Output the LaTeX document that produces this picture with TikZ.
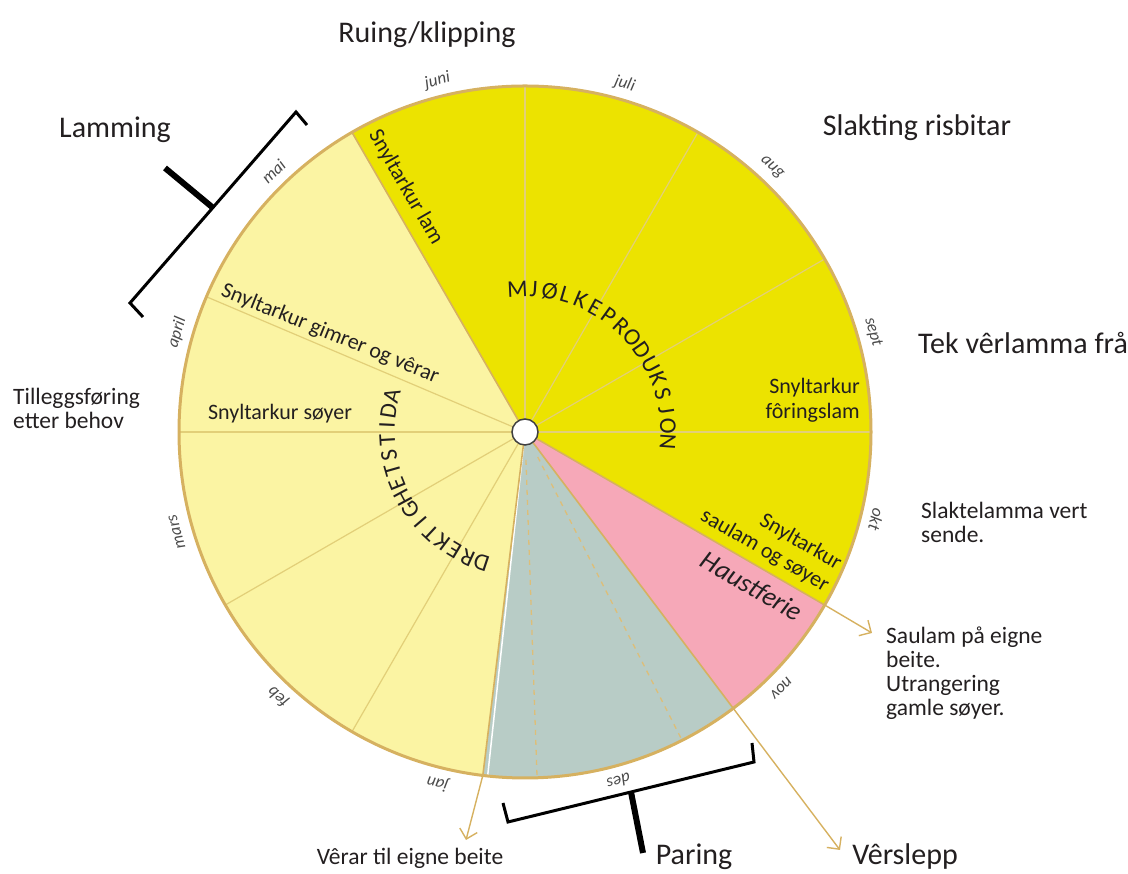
\documentclass[tikz,border=0pt]{standalone}
\usepackage{fontspec}
\setmainfont{Carlito}
\usetikzlibrary{arrows.meta,calc}
\definecolor{darkY}{HTML}{ECE300}
\definecolor{lightY}{HTML}{FBF4A3}
\definecolor{pinkF}{HTML}{F6A8B8}
\definecolor{greyF}{HTML}{B8CCC6}
\definecolor{tanC}{HTML}{D6B160}
\definecolor{dashC}{HTML}{DDBE78}
\definecolor{lineY}{HTML}{E2CF78}
\definecolor{txt}{HTML}{231F20}
\definecolor{monthgray}{HTML}{4A4A4A}
\begin{document}
\begin{tikzpicture}[x=1pt,y=1pt,
  big/.style={font=\fontsize{30}{34}\selectfont, text=txt, inner sep=0pt},
  mid/.style={font=\fontsize{23.5}{24}\selectfont, text=txt, align=left, inner sep=0pt},
  inner/.style={font=\fontsize{22}{25}\selectfont, text=txt, inner sep=0pt},
  month/.style={font=\itshape\fontsize{17}{19}\selectfont, text=monthgray, inner sep=0pt},
  arcl/.style={font=\fontsize{24}{27}\selectfont, text=txt, inner sep=0pt},
  innerline/.style={draw=lineY, line width=1.2pt},
  border/.style={draw=tanC, line width=1.6pt},
  arr/.style={draw=tanC, line width=1.4pt, -{Straight Barb[length=9pt,width=18pt,line width=1.4pt]}},
  bracket/.style={draw=black, line width=3pt, line join=miter},
  stem/.style={draw=black, line width=6pt}]
\useasboundingbox (0,0) rectangle (1128,874);
\coordinate (C) at (525,442);
\def\R{346}
% sectors
\fill[darkY] (C) -- ($(C)+(-30:\R)$) arc[start angle=-30,end angle=120,radius=\R] -- cycle;
\fill[pinkF] (C) -- ($(C)+(-53:\R)$) arc[start angle=-53,end angle=-30,radius=\R] -- cycle;
\fill[greyF] (C) -- ($(C)+(-97:\R)$) arc[start angle=-97,end angle=-53,radius=\R] -- cycle;
\fill[lightY] (C) -- ($(C)+(120:\R)$) arc[start angle=120,end angle=263,radius=\R] -- cycle;
% inner lines
\foreach \a in {90,60,30,0,157,180,210,240} \draw[innerline] (C) -- ($(C)+(\a:\R)$);
\draw[white, line width=1.5pt] (C) -- ($(C)+(-96.2:\R)$);
\foreach \a in {120,-30,-53,-97} \draw[border] (C) -- ($(C)+(\a:\R)$);
\foreach \a in {-63,-88} \draw[draw=dashC, line width=1.3pt, dash pattern=on 5pt off 5pt] ($(C)+(\a:28)$) -- ($(C)+(\a:\R)$);
% outer circle
\draw[draw=tanC, line width=3pt] (C) circle[radius=\R];
\node[circle, draw=black!75, fill=white, minimum size=26pt, inner sep=0pt, line width=1.5pt] (hub) at (C) {};
% month labels
\foreach \a/\m in {104/juni, 74/juli, 47/aug, 16/sept, -14/okt, -45/nov, -75/des, -104/jan, -133/feb, -164/mars, 164/april, 134/mai}
  \node[month, rotate=\a-90] (m-\m) at ($(C)+(\a:362)$) {\m};
% arc texts
\foreach \l [count=\i from 0] in {M,J,Ø,L,K,E,P,R,O,D,U,K,S,J,O,N} {
  \pgfmathsetmacro\ang{93-\i*6.47}
  \node[arcl, rotate=\ang-90] (mj\i) at ($(C)+(\ang:143)$) {\l};
}
\foreach \l [count=\i from 0] in {D,R,E,K,T,I,G,H,E,T,S,T,I,D,A} {
  \pgfmathsetmacro\ang{251.6-\i*6.19}
  \node[arcl, rotate=\ang-90] (dr\i) at ($(C)+(\ang:138)$) {\l};
}
% inner labels
\node[inner, rotate=-60] (lam) at ($(C)+(116:272)$) {Snyltarkur lam};
\node[inner, rotate=-22] (gimrer) at (330,540) {Snyltarkur gimrer og vêrar};
\node[inner] (soyer) at (280,460) {Snyltarkur søyer};
\node[inner, align=right, anchor=east] (foring) at (860,474) {Snyltarkur\\fôringslam};
\node[inner, align=right, rotate=-30] (saulam) at (771,334) {Snyltarkur\\saulam og søyer};
\node[font=\itshape\fontsize{27}{30}\selectfont, text=txt, inner sep=0pt, rotate=-30] (haust) at (752,288) {Haustferie};
% outer labels
\node[big] (ruing) at (427,839) {Ruing/klipping};
\node[big] (lamming) at (115,744) {Lamming};
\node[big] (slakting) at (917,746) {Slakting risbitar};
\node[big, anchor=west] (tek) at (918,531) {Tek vêrlamma frå};
\node[mid, anchor=west] (tillegg) at (13,466) {Tilleggsføring\\etter behov};
\node[mid, anchor=west] (slaktel) at (921,352) {Slaktelamma vert\\sende.};
\node[mid, anchor=west] (saulamt) at (886,201) {Saulam på eigne\\beite.\\Utrangering\\gamle søyer.};
\node[mid] (verar) at (410,16) {Vêrar til eigne beite};
\node[big] (paring) at (694,17) {Paring};
\node[big] (verslepp) at (905,17) {Vêrslepp};
% arrows
\coordinate (a1s) at ($(C)+(263:\R)$);
\coordinate (a1e) at (466,34);
\coordinate (a2s) at ($(C)+(-53:\R)$);
\coordinate (a2e) at (840,24);
\coordinate (a3s) at ($(C)+(-30:\R)$);
\coordinate (a3e) at (872,241);
\draw[arr] (a1s) -- (a1e);
\draw[arr] (a2s) -- (a2e);
\draw[arr] (a3s) -- (a3e);
% brackets
\draw[bracket] (307,749) -- (296,762) -- (130,571) -- (143,557);
\draw[stem] (212,667) -- (165,706);
\draw[bracket] (503,71) -- (508,52) -- (754,112) -- (752,131);
\draw[stem] (631,82) -- (643,21);
\end{tikzpicture}
\end{document}
